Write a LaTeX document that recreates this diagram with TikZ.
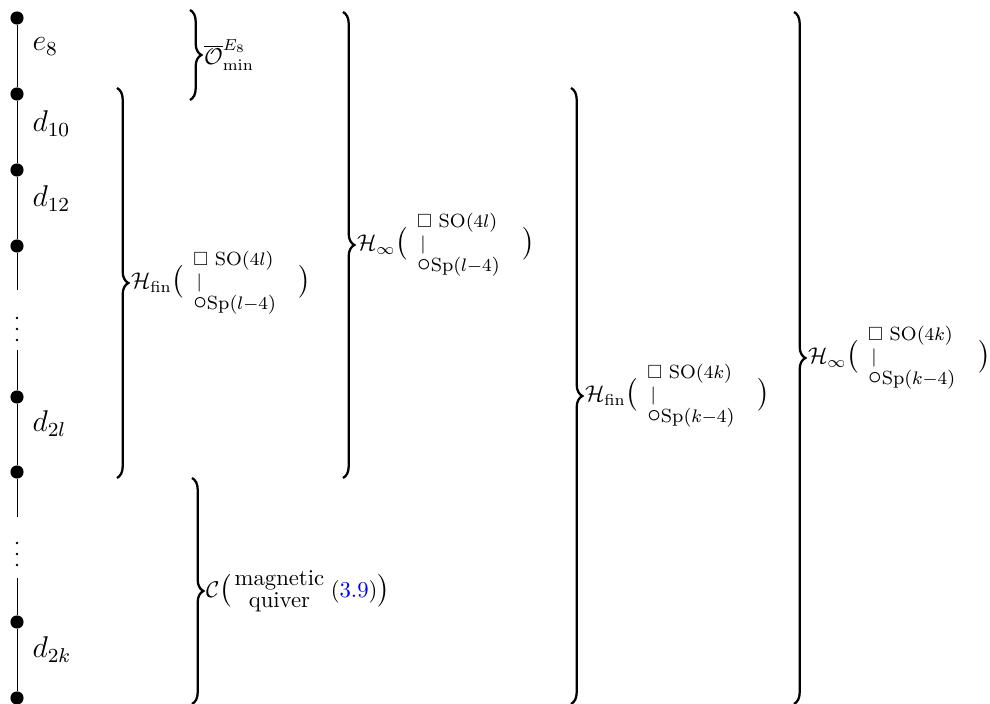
\documentclass[tikz,border=0pt]{standalone}
\usepackage{amsmath}
\usepackage{amssymb}
\usepackage{graphicx}
\usetikzlibrary{decorations.pathreplacing,positioning}

\newcommand{\lpar}{\mathopen{\scalebox{1.2}{$\bigl($}}}
\newcommand{\rpar}{\mathclose{\scalebox{1.2}{$\bigr)$}}}
\newcommand{\quivtab}[2]{{\fontsize{8.4}{9.6}\selectfont
  \begin{tabular}{@{}l@{}}$\square$\ SO($#1$)\\ \,\smash{$|$}\\ \smash{\fontsize{12}{12}\selectfont$\circ$}Sp($#2$)\end{tabular}}}
\newcommand{\hlabel}[3]{$\mathcal{H}_{#1}\lpar\hspace{4pt}\vcenter{\hbox{\quivtab{#2}{#3}}}\quad\rpar$}

\begin{document}
\begin{tikzpicture}[x=0.44pt, y=-0.44pt,
  dot/.style={circle, fill, inner sep=0pt, minimum size=5.8pt},
  lbl/.style={anchor=base west, inner sep=0pt, font=\large, scale=1.1},
  bracedeco/.style={decorate, decoration={brace, amplitude=5pt}, line width=1pt},
  blabel/.style={anchor=west, inner sep=1pt}]
\useasboundingbox (0,0) rectangle (990,704);
% chain of dots
\foreach \i/\y in {0/18,1/94,2/170,3/246,5/397,6/472,8/622,9/698}
  \node[dot] (n\i) at (17,\y) {};
\coordinate (g1) at (17,290);
\coordinate (g2) at (17,350);
\coordinate (g3) at (17,517);
\coordinate (g4) at (17,578);
\draw (n0) -- (n1) -- (n2) -- (n3) -- (g1);
\draw (g2) -- (n5) -- (n6) -- (g3);
\draw (g4) -- (n8) -- (n9);
\foreach \y in {318,329,340,543,554,565}
  \fill (17,\y) circle (0.6pt);
% node labels
\node[lbl] (e8) at (32,51) {$e_8$};
\node[lbl] (d10) at (32,132) {$d_{10}$};
\node[lbl] (d12) at (32,207) {$d_{12}$};
\node[lbl] (d2l) at (32,432) {$d_{2l}$};
\node[lbl] (d2k) at (32,658) {$d_{2k}$};
% braces
\foreach \nm/\x/\ya/\yb in {omin/190/10/100, hfinl/117/88/478, hinfl/343/12/478,
    cq/192/478/704, hfink/571/88/704, hinfk/794/12/704}{
  \coordinate (\nm-a) at (\x,\ya);
  \coordinate (\nm-b) at (\x,\yb);
  \draw[bracedeco] (\nm-a) -- (\nm-b);
  \path (\nm-a) -- (\nm-b) coordinate[midway, xshift=5pt] (\nm-tip);
}
\node[blabel] (lab-omin) at (omin-tip) {$\overline{\mathcal{O}}^{E_8}_{\mathrm{min}}$};
\node[blabel] (lab-hfinl) at (hfinl-tip) {\hlabel{\mathrm{fin}}{4l}{l{-}4}};
\node[blabel] (lab-hinfl) at (hinfl-tip) {\hlabel{\infty}{4l}{l{-}4}};
\node[blabel] (lab-cq) at (cq-tip) {$\mathcal{C}\lpar\genfrac{}{}{0pt}{}{\mbox{magnetic}}{\mbox{quiver}}\,(\textcolor{blue}{3.9})\rpar$};
\node[blabel] (lab-hfink) at (hfink-tip) {\hlabel{\mathrm{fin}}{4k}{k{-}4}};
\node[blabel] (lab-hinfk) at (hinfk-tip) {\hlabel{\infty}{4k}{k{-}4}};
\end{tikzpicture}
\end{document}
